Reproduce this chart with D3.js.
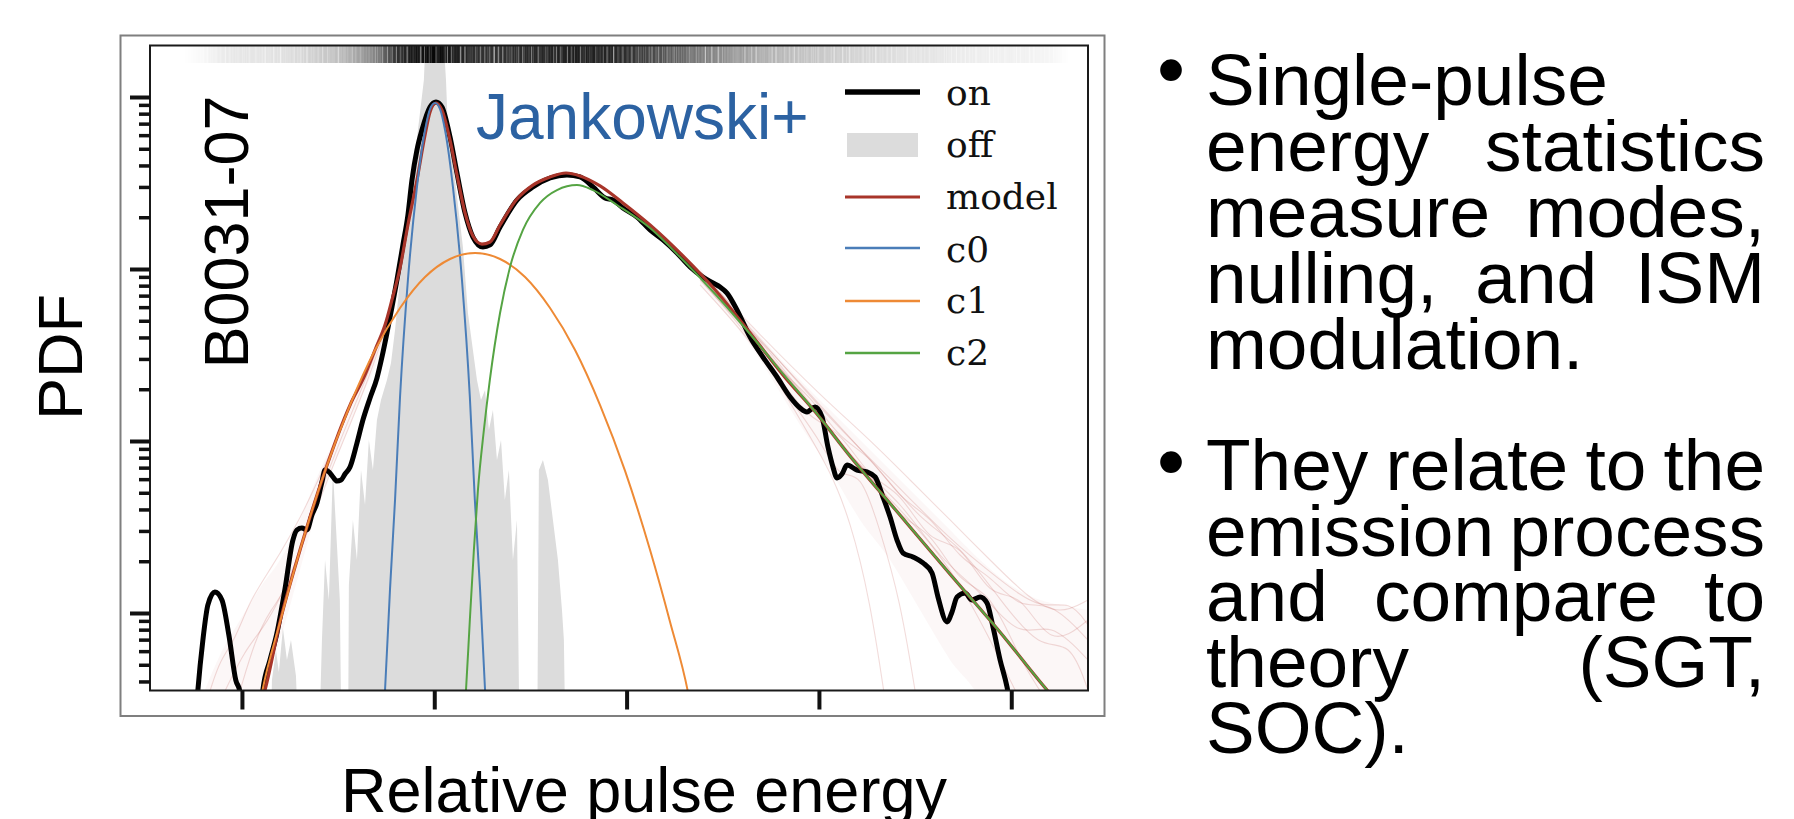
<!DOCTYPE html>
<html>
<head>
<meta charset="utf-8">
<script src="https://cdn.jsdelivr.net/npm/d3@7"></script>
<style>
  html, body { margin: 0; padding: 0; background: #ffffff; }
  svg { display: block; }
</style>
</head>
<body>
<svg id="slide" width="1794" height="819"></svg>
<script>
// ---------------------------------------------------------------
// Single-pulse energy distribution of PSR B0031-07.
// Energies are relative pulse energies; PDF values are stored as
// log10(PDF) because the vertical axis is logarithmic.
// ---------------------------------------------------------------

// on-pulse energy distribution (black)
const onPdf = [
  [-1.239,-4.593],[-1.229,-4.448],[-1.203,-4.157],[-1.177,-3.953],[-1.141,-3.878],
  [-1.104,-3.924],[-1.068,-4.128],[-1.032,-4.390],[-1.010,-4.459],[-1.000,-4.593],
  [-0.960,-5.600],[-0.930,-5.600],
  [-0.901,-4.593],[-0.891,-4.448],[-0.854,-4.273],[-0.818,-4.116],[-0.777,-3.866],
  [-0.735,-3.576],[-0.714,-3.517],[-0.688,-3.506],[-0.662,-3.517],[-0.636,-3.430],
  [-0.610,-3.360],[-0.584,-3.238],[-0.568,-3.169],[-0.548,-3.180],[-0.527,-3.209],
  [-0.506,-3.233],[-0.485,-3.227],[-0.464,-3.192],[-0.438,-3.151],[-0.402,-3.012],
  [-0.371,-2.878],[-0.334,-2.750],[-0.298,-2.634],[-0.272,-2.512],[-0.246,-2.372],
  [-0.220,-2.221],[-0.194,-2.064],[-0.163,-1.860],[-0.137,-1.686],[-0.116,-1.483],
  [-0.090,-1.308],[-0.064,-1.192],[-0.022,-1.058],[0.009,-1.029],[0.040,-1.058],
  [0.082,-1.233],[0.118,-1.442],[0.160,-1.674],[0.201,-1.814],[0.253,-1.872],
  [0.290,-1.860],[0.342,-1.756],[0.430,-1.599],[0.513,-1.523],[0.602,-1.471],
  [0.690,-1.453],[0.758,-1.465],[0.825,-1.523],[0.888,-1.587],[0.929,-1.599],
  [0.981,-1.645],[1.054,-1.698],[1.122,-1.773],[1.189,-1.831],[1.262,-1.907],
  [1.330,-1.988],[1.397,-2.047],[1.449,-2.081],[1.486,-2.105],[1.522,-2.140],
  [1.574,-2.238],[1.642,-2.395],[1.709,-2.512],[1.782,-2.628],[1.850,-2.744],
  [1.902,-2.808],[1.938,-2.831],[1.980,-2.802],[2.016,-2.860],[2.047,-3.035],
  [2.073,-3.151],[2.094,-3.215],[2.120,-3.192],[2.146,-3.140],[2.198,-3.169],
  [2.250,-3.180],[2.292,-3.209],[2.333,-3.326],[2.370,-3.442],[2.406,-3.576],
  [2.437,-3.651],[2.489,-3.674],[2.541,-3.709],[2.588,-3.767],[2.619,-3.907],
  [2.666,-4.052],[2.692,-3.994],[2.718,-3.907],[2.760,-3.884],[2.796,-3.924],
  [2.838,-3.907],[2.874,-3.942],[2.905,-4.081],[2.942,-4.273],[2.978,-4.430],
  [3.004,-4.593]
];

// off-pulse energy distribution (grey fill)
const offPdf = [
  [-0.855,-5],[-0.844,-4.390],[-0.823,-4.215],[-0.808,-4.343],[-0.787,-4.087],
  [-0.766,-4.273],[-0.745,-4.157],[-0.719,-4.366],[-0.698,-5],
  [-0.605,-5],[-0.584,-4.157],[-0.568,-3.692],[-0.548,-3.924],[-0.527,-3.169],
  [-0.506,-3.605],[-0.491,-3.924],[-0.480,-5],[-0.449,-5],[-0.444,-3.837],
  [-0.423,-3.459],[-0.402,-3.692],[-0.381,-3.169],[-0.360,-3.372],[-0.340,-2.994],
  [-0.319,-3.169],[-0.298,-2.878],[-0.277,-2.762],[-0.246,-2.645],[-0.225,-2.547],
  [-0.204,-2.355],[-0.173,-2.006],[-0.153,-1.872],[-0.116,-1.483],[-0.085,-1.192],
  [-0.054,-0.901],[-0.043,-0.610],[0.045,-0.610],[0.061,-0.901],[0.071,-1.192],
  [0.108,-1.483],[0.149,-1.872],[0.175,-2.256],[0.222,-2.645],[0.243,-2.762],
  [0.264,-2.703],[0.284,-2.936],[0.305,-2.820],[0.326,-3.110],[0.347,-2.994],
  [0.367,-3.343],[0.388,-3.169],[0.409,-3.692],[0.430,-3.459],[0.446,-5],
  [0.534,-5],[0.544,-3.169],[0.565,-3.110],[0.591,-3.227],[0.617,-3.459],
  [0.643,-3.692],[0.664,-3.983],[0.674,-4.157],[0.685,-5]
];

// fitted three-component model (dark red)
const modelPdf = [
  [-0.895,-4.506],[-0.880,-4.448],[-0.802,-4.052],[-0.698,-3.634],[-0.568,-3.174],
  [-0.438,-2.791],[-0.360,-2.616],[-0.308,-2.471],[-0.256,-2.326],[-0.220,-2.180],
  [-0.178,-1.994],[-0.137,-1.744],[-0.090,-1.483],[-0.048,-1.221],[-0.022,-1.087],
  [0.009,-1.035],[0.040,-1.076],[0.082,-1.250],[0.118,-1.453],[0.160,-1.674],
  [0.201,-1.808],[0.248,-1.855],[0.290,-1.843],[0.342,-1.744],[0.430,-1.593],
  [0.513,-1.512],[0.602,-1.465],[0.685,-1.442],[0.758,-1.459],[0.862,-1.517],
  [0.981,-1.616],[1.122,-1.744],[1.293,-1.924],[1.470,-2.134],[1.642,-2.372],
  [1.813,-2.616],[1.990,-2.843],[2.161,-3.087],[2.421,-3.430],[2.681,-3.773],
  [2.941,-4.110],[3.186,-4.448],[3.305,-4.599]
];

// component c0: null emission
const c0Pdf = [
  [-0.267,-4.663],[-0.256,-4.448],[-0.230,-3.860],[-0.204,-3.343],[-0.178,-2.744],
  [-0.137,-2.064],[-0.090,-1.523],[-0.048,-1.192],[-0.022,-1.070],[0.004,-1.035],
  [0.030,-1.070],[0.056,-1.192],[0.097,-1.523],[0.144,-2.064],[0.185,-2.744],
  [0.211,-3.343],[0.238,-3.860],[0.264,-4.448],[0.274,-4.663]
];

// component c1
const c1Pdf = [
  [-0.917,-4.593],[-0.896,-4.465],[-0.802,-4.052],[-0.698,-3.634],[-0.568,-3.174],
  [-0.438,-2.791],[-0.308,-2.471],[-0.178,-2.227],[-0.048,-2.047],[0.082,-1.942],
  [0.212,-1.907],[0.342,-1.942],[0.472,-2.047],[0.602,-2.227],[0.732,-2.471],
  [0.862,-2.791],[0.992,-3.174],[1.122,-3.634],[1.226,-4.052],[1.320,-4.465],
  [1.341,-4.593]
];

// component c2
const c2Pdf = [
  [0.154,-4.622],[0.165,-4.448],[0.185,-4.041],[0.206,-3.634],[0.227,-3.285],
  [0.258,-2.936],[0.289,-2.645],[0.342,-2.256],[0.394,-1.988],[0.461,-1.773],
  [0.550,-1.616],[0.638,-1.541],[0.742,-1.512],[0.825,-1.541],[0.950,-1.628],
  [1.122,-1.762],[1.293,-1.948],[1.470,-2.157],[1.642,-2.378],[1.813,-2.610],
  [1.990,-2.843],[2.161,-3.087],[2.421,-3.430],[2.681,-3.773],[2.941,-4.110],
  [3.186,-4.448],[3.305,-4.599]
];

// resampled on-pulse distributions (faint red)
const resampledPdf = [
  [[-1.166,-4.453],[-1.114,-4.273],[-1.036,-4.157],[-0.958,-3.924],[-0.854,-3.750],
   [-0.698,-3.459],[-0.543,-3.081],[-0.386,-2.674],[-0.230,-2.238]],
  [[-1.010,-4.453],[-0.932,-4.157],[-0.854,-3.983],[-0.750,-3.837],[-0.646,-3.459],
   [-0.491,-2.994],[-0.334,-2.587],[-0.204,-2.180]],
  [[-1.088,-4.453],[-0.984,-4.215],[-0.896,-4.099],[-0.802,-3.924],[-0.673,-3.576],
   [-0.517,-3.110],[-0.360,-2.703],[-0.220,-2.238]],
  [[1.382,-2.017],[1.694,-2.384],[2.006,-2.733],[2.266,-2.994],[2.474,-3.227],
   [2.682,-3.459],[2.890,-3.692],[3.098,-3.924],[3.254,-4.012],[3.399,-3.924]],
  [[1.382,-2.064],[1.694,-2.442],[2.006,-2.849],[2.214,-3.169],[2.422,-3.343],
   [2.630,-3.692],[2.838,-3.866],[3.046,-4.157],[3.202,-4.041],[3.399,-4.273]],
  [[1.382,-2.093],[1.694,-2.471],[1.902,-2.878],[2.058,-3.169],[2.162,-3.459],
   [2.266,-3.924],[2.344,-4.506]],
  [[1.382,-2.052],[1.694,-2.413],[2.006,-2.791],[2.318,-3.169],[2.526,-3.459],
   [2.734,-3.605],[2.942,-3.924],[3.150,-4.215],[3.306,-4.157],[3.399,-4.448]],
  [[1.382,-2.041],[1.746,-2.471],[2.058,-2.936],[2.318,-3.285],[2.578,-3.576],
   [2.786,-3.924],[2.942,-4.273],[3.046,-4.506]],
  [[1.382,-2.029],[1.694,-2.401],[2.058,-2.878],[2.370,-3.215],[2.682,-3.576],
   [2.942,-3.808],[3.150,-3.983],[3.306,-3.924],[3.399,-4.070]],
  [[1.382,-2.035],[1.590,-2.285],[1.798,-2.599],[1.954,-2.733],[2.110,-2.994],
   [2.266,-3.081],[2.422,-3.343],[2.578,-3.430],[2.734,-3.692],[2.890,-3.779],
   [3.046,-3.983],[3.202,-3.924],[3.399,-4.157]],
  [[1.382,-2.058],[1.590,-2.326],[1.798,-2.645],[1.954,-2.878],[2.110,-2.936],
   [2.266,-3.227],[2.422,-3.285],[2.578,-3.605],[2.734,-3.576],[2.890,-3.924],
   [3.046,-3.866],[3.202,-4.215],[3.399,-4.041]],
  [[1.486,-2.151],[1.694,-2.471],[1.850,-2.762],[2.006,-2.994],[2.110,-3.227],
   [2.214,-3.169],[2.318,-3.517],[2.422,-3.924],[2.500,-4.453]],
  [[1.486,-2.134],[1.694,-2.442],[1.902,-2.703],[2.110,-3.052],[2.266,-3.169],
   [2.422,-3.459],[2.578,-3.517],[2.734,-3.837],[2.890,-3.866],[3.046,-4.273],
   [3.150,-4.453]]
];

// spread of the resampled distributions: [energy, lower, upper] in log10(PDF)
const resampledSpread = [
  [-1.193,-5.000,-4.448],[-1.114,-5.000,-4.244],[-1.010,-5.000,-4.041],
  [-0.896,-4.453,-3.837],[-0.802,-4.157,-3.692],[-0.698,-3.750,-3.459],
  [-0.594,-3.343,-3.169],[-0.491,-3.052,-2.936],[-0.386,-2.762,-2.674],
  [-0.282,-2.500,-2.442],[-0.178,-2.122,-2.064]
];
const tailSpread = [
  [1.382,-2.093,-1.994],[1.642,-2.442,-2.326],[1.902,-2.907,-2.645],
  [2.058,-3.169,-2.820],[2.214,-3.459,-2.994],[2.370,-3.692,-3.169],
  [2.526,-3.983,-3.343],[2.682,-4.273,-3.517],[2.838,-4.506,-3.692],
  [2.994,-5.000,-3.837],[3.150,-5.000,-3.924],[3.254,-5.000,-3.953],
  [3.399,-5.000,-3.983]
];

// individual pulse energies, shown as rug density (bin centre, darkness)
const rugCentres = [-1.3,-1.2,-1.1,-1.0,-0.9,-0.8,-0.7,-0.6,-0.5,-0.4,-0.3,-0.2,-0.1,
  0.0,0.1,0.2,0.3,0.4,0.5,0.6,0.7,0.8,0.9,1.0,1.1,1.2,1.3,1.4,1.5,1.6,1.7,1.8,1.9,
  2.0,2.1,2.2,2.3,2.4,2.5,2.6,2.7,2.8,2.9,3.0,3.1,3.2,3.3];
const rugShade = [0.00,0.03,0.08,0.10,0.10,0.12,0.15,0.20,0.25,0.35,0.50,0.80,0.92,
  0.97,0.90,0.82,0.80,0.82,0.84,0.86,0.88,0.88,0.86,0.82,0.74,0.66,0.58,0.50,0.44,
  0.38,0.32,0.28,0.24,0.22,0.19,0.17,0.15,0.13,0.11,0.10,0.08,0.07,0.06,0.06,0.05,
  0.04,0.00];

const xTicks = [-1, 0, 1, 2, 3];
const legendLabels = ["on", "off", "model", "c0", "c1", "c2"];

const pulsarName = "B0031-07";
const citation = "Jankowski+";
const xTitle = "Relative pulse energy";
const yTitle = "PDF";
const bullets = [
  ["Single-pulse", "energy statistics", "measure modes,", "nulling, and ISM", "modulation."],
  ["They relate to the", "emission process", "and compare to", "theory (SGT,", "SOC)."]
];

// ---------------------------------------------------------------
const colors = {
  on: "#000000", off: "#dcdcdc", model: "#a8352a",
  c0: "#4a7db8", c1: "#ee8a35", c2: "#55a443", resampled: "#c0504d"
};
const sans = "'Liberation Sans', Arial, sans-serif";
const serif = "'DejaVu Serif', serif";

const svg = d3.select("#slide");

const plot = { left: 150, right: 1088, top: 45.5, bottom: 690.5 };
const x = d3.scaleLinear().domain([-1.478, 3.399]).range([plot.left, plot.right]);
const y = d3.scaleLog()
  .domain([Math.pow(10, -4.4506), Math.pow(10, -0.7006)])
  .range([plot.bottom, plot.top]);
const px = d => x(d[0]);
const py = d => y(Math.pow(10, d[1]));

// picture frame around the figure
svg.append("rect")
  .attr("x", 120.5).attr("y", 35.5).attr("width", 984).attr("height", 680.5)
  .attr("fill", "#ffffff").attr("stroke", "#7f7f7f").attr("stroke-width", 2);

const defs = svg.append("defs");
defs.append("clipPath").attr("id", "plot-clip").append("rect")
  .attr("x", plot.left).attr("y", plot.top)
  .attr("width", plot.right - plot.left).attr("height", plot.bottom - plot.top);

const g = svg.append("g").attr("clip-path", "url(#plot-clip)");

// off-pulse distribution
g.append("path").datum(offPdf)
  .attr("d", d3.area().x(px).y0(plot.bottom).y1(py).curve(d3.curveLinear))
  .attr("fill", colors.off);

// spread of the resampled distributions
const spreadArea = d3.area().x(px)
  .y0(d => y(Math.pow(10, d[1]))).y1(d => y(Math.pow(10, d[2])))
  .curve(d3.curveMonotoneX);
[resampledSpread, tailSpread].forEach(s => {
  g.append("path").datum(s).attr("d", spreadArea)
    .attr("fill", colors.resampled).attr("fill-opacity", 0.045);
});

g.selectAll("path.resampled").data(resampledPdf).join("path")
  .attr("class", "resampled")
  .attr("d", d3.line().x(px).y(py).curve(d3.curveBasis))
  .attr("fill", "none").attr("stroke", colors.resampled)
  .attr("stroke-opacity", 0.2).attr("stroke-width", 1.1);

const smooth = d3.line().x(px).y(py).curve(d3.curveMonotoneX);

g.append("path").datum(onPdf).attr("d", smooth)
  .attr("fill", "none").attr("stroke", colors.on).attr("stroke-width", 5)
  .attr("stroke-linejoin", "round");
g.append("path").datum(modelPdf).attr("d", smooth)
  .attr("fill", "none").attr("stroke", colors.model).attr("stroke-width", 3.2);
g.append("path").datum(c0Pdf).attr("d", smooth)
  .attr("fill", "none").attr("stroke", colors.c0).attr("stroke-width", 2);
g.append("path").datum(c1Pdf).attr("d", smooth)
  .attr("fill", "none").attr("stroke", colors.c1).attr("stroke-width", 2);
g.append("path").datum(c2Pdf).attr("d", smooth)
  .attr("fill", "none").attr("stroke", colors.c2).attr("stroke-width", 2);

// rug of pulse energies along the top edge: density gradient with a
// streaked texture so that individual pulses read as thin vertical marks
const rugH = 17.5;
const rugGrad = defs.append("linearGradient").attr("id", "rug-grad")
  .attr("gradientUnits", "userSpaceOnUse")
  .attr("x1", plot.left).attr("x2", plot.right).attr("y1", 0).attr("y2", 0);
rugGrad.selectAll("stop").data(rugCentres).join("stop")
  .attr("offset", c => (x(c) - plot.left) / (plot.right - plot.left))
  .attr("stop-color", "#000000")
  .attr("stop-opacity", (c, i) => rugShade[i]);

const streak = defs.append("filter").attr("id", "rug-streak")
  .attr("filterUnits", "userSpaceOnUse")
  .attr("x", plot.left).attr("y", plot.top)
  .attr("width", plot.right - plot.left).attr("height", rugH);
streak.append("feTurbulence").attr("type", "fractalNoise")
  .attr("baseFrequency", "0.45 0.0001").attr("numOctaves", 2).attr("seed", 7);
streak.append("feColorMatrix").attr("type", "matrix")
  .attr("values", "2.6 0 0 0 -0.45  2.6 0 0 0 -0.45  2.6 0 0 0 -0.45  0 0 0 0 1");
const rugMask = defs.append("mask").attr("id", "rug-mask")
  .attr("maskUnits", "userSpaceOnUse")
  .attr("x", plot.left).attr("y", plot.top)
  .attr("width", plot.right - plot.left).attr("height", rugH);
rugMask.append("rect")
  .attr("x", plot.left).attr("y", plot.top)
  .attr("width", plot.right - plot.left).attr("height", rugH)
  .attr("fill", "#fff").attr("filter", "url(#rug-streak)");

g.append("rect")
  .attr("x", plot.left).attr("y", plot.top)
  .attr("width", plot.right - plot.left).attr("height", rugH)
  .attr("fill", "url(#rug-grad)").attr("mask", "url(#rug-mask)");

// spines
svg.append("rect")
  .attr("x", plot.left).attr("y", plot.top)
  .attr("width", plot.right - plot.left).attr("height", plot.bottom - plot.top)
  .attr("fill", "none").attr("stroke", "#1a1a1a").attr("stroke-width", 2);

// axes (ticks only)
const styleAxis = (sel, w) => {
  sel.select(".domain").remove();
  sel.selectAll(".tick line").attr("stroke", "#111").attr("stroke-width", w);
  sel.selectAll(".tick text").remove();
};
svg.append("g").attr("transform", `translate(0,${plot.bottom})`)
  .call(d3.axisBottom(x).tickValues(xTicks).tickSize(19).tickFormat(""))
  .call(s => styleAxis(s, 4));

const allYTicks = y.ticks();
const isDecade = v => Math.abs(Math.log10(v) - Math.round(Math.log10(v))) < 1e-6;
svg.append("g").attr("transform", `translate(${plot.left},0)`)
  .call(d3.axisLeft(y).tickValues(allYTicks.filter(v => !isDecade(v))).tickSize(11).tickFormat(""))
  .call(s => styleAxis(s, 3.5));
svg.append("g").attr("transform", `translate(${plot.left},0)`)
  .call(d3.axisLeft(y).tickValues(allYTicks.filter(isDecade)).tickSize(20).tickFormat(""))
  .call(s => styleAxis(s, 4));

// legend
const legendY = [92, 145, 197, 248, 301, 353];
const legendBase = [105, 157, 209, 262, 313, 365];
const lg = svg.append("g");
legendLabels.forEach((name, i) => {
  if (name === "off") {
    lg.append("rect").attr("x", 847).attr("y", legendY[i] - 12)
      .attr("width", 71).attr("height", 24).attr("fill", colors.off);
  } else {
    lg.append("line").attr("x1", 845).attr("x2", 920)
      .attr("y1", legendY[i]).attr("y2", legendY[i])
      .attr("stroke", colors[name])
      .attr("stroke-width", name === "on" ? 5.5 : name === "model" ? 3 : 2.5);
  }
  lg.append("text").attr("x", 946).attr("y", legendBase[i])
    .attr("font-family", serif).attr("font-size", 36).attr("fill", "#111")
    .text(name);
});

// labels inside the figure
svg.append("text").attr("x", 476).attr("y", 139)
  .attr("font-family", sans).attr("font-size", 64).attr("fill", "#2c62a2")
  .text(citation);
svg.append("text")
  .attr("transform", "translate(248,232) rotate(-90)")
  .attr("text-anchor", "middle")
  .attr("font-family", sans).attr("font-size", 63).attr("fill", "#000")
  .text(pulsarName);

// axis titles
svg.append("text")
  .attr("transform", "translate(82,357) rotate(-90)")
  .attr("text-anchor", "middle")
  .attr("font-family", sans).attr("font-size", 63).attr("fill", "#000")
  .text(yTitle);
svg.append("text").attr("x", 644).attr("y", 812)
  .attr("text-anchor", "middle")
  .attr("font-family", sans).attr("font-size", 63).attr("fill", "#000")
  .text(xTitle);

// bullet points; every line but the last of a paragraph is justified
const textLeft = 1206, textRight = 1765, lineStep = 65.8;
const paraBase = [105.3, 489.7];
const dotY = [97, 489];
const tg = svg.append("g").attr("font-family", sans).attr("font-size", 73).attr("fill", "#000");
bullets.forEach((lines, p) => {
  tg.append("text").attr("x", 1171).attr("y", dotY[p])
    .attr("text-anchor", "middle").attr("font-size", 80).text("\u2022");
  lines.forEach((ln, i) => {
    const t = tg.append("text").attr("x", textLeft)
      .attr("y", paraBase[p] + i * lineStep)
      .style("white-space", "pre").text(ln);
    const spaces = (ln.match(/ /g) || []).length;
    if (i < lines.length - 1 && spaces > 0) {
      const extra = (textRight - textLeft - t.node().getComputedTextLength()) / spaces;
      t.attr("word-spacing", extra);
    }
  });
});
</script>
</body>
</html>
